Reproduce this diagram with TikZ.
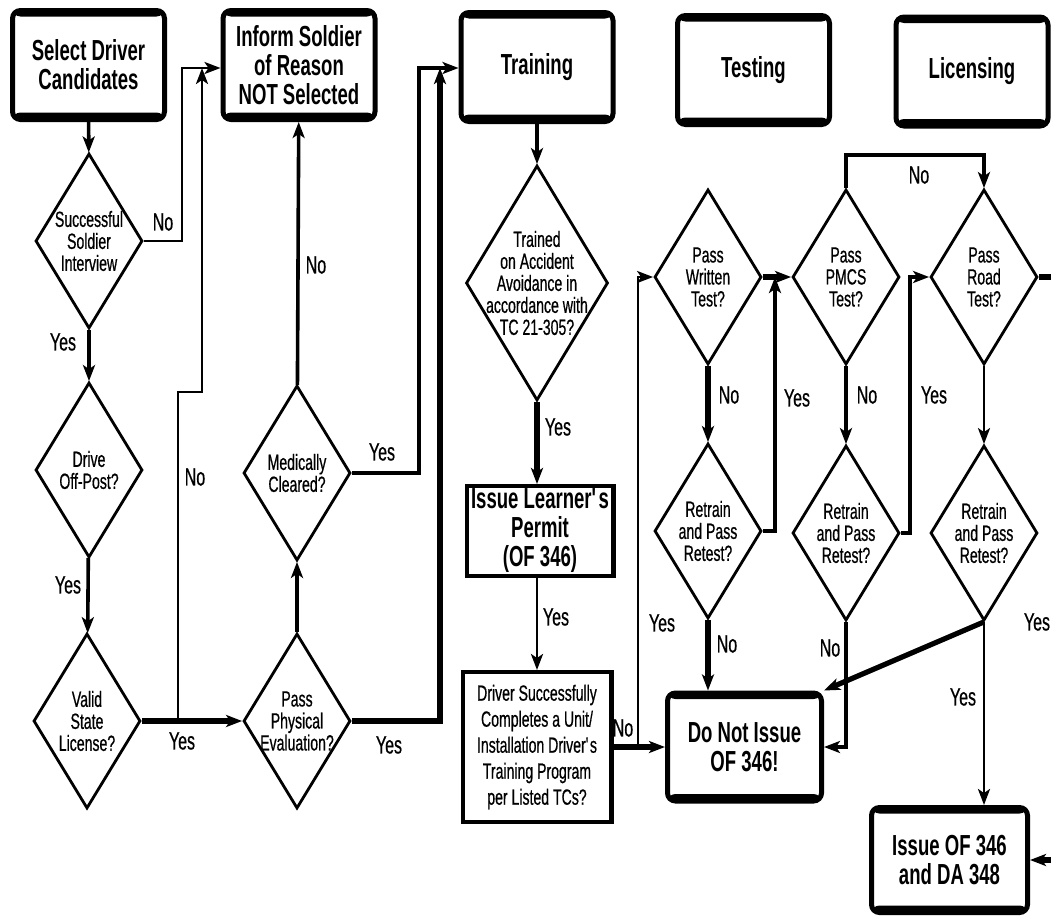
\documentclass[tikz,border=0pt]{standalone}
\usepackage{fontspec}
\setmainfont{Liberation Sans}[FakeStretch=0.64]
\newfontfamily\narrowfam{Liberation Sans}[FakeStretch=0.64, FakeBold=0.6]
\usepackage{tikz}
\usetikzlibrary{shapes.geometric,arrows.meta,calc}

\newcommand{\hdrfont}{\fontsize{14.5}{14.5}\selectfont\bfseries}
\newcommand{\dmdfont}{\narrowfam\fontsize{11}{11}\selectfont}
\newcommand{\lblfont}{\narrowfam\fontsize{12.5}{13}\selectfont}
\newcommand{\boxfont}{\narrowfam\fontsize{11}{13}\selectfont}

\begin{document}
\begin{tikzpicture}[
    x=0.5pt, y=-0.5pt,
    hdr/.style={draw, line width=2.5pt, rounded corners=4pt, minimum width=76pt, minimum height=54.5pt, inner sep=0pt, align=center, font=\hdrfont,
        path picture={
            \fill (path picture bounding box.north west) rectangle ([yshift=-3pt]path picture bounding box.north east);
            \fill ([yshift=3.5pt]path picture bounding box.south west) rectangle (path picture bounding box.south east);
        }},
    decision/.style={draw, diamond, line width=1.4pt, inner sep=-20pt, minimum width=53.5pt, minimum height=87.5pt, align=center, font=\dmdfont},
    plainbox/.style={draw, line width=2.2pt, inner sep=0pt, align=center},
    lbl/.style={inner sep=0pt, font=\lblfont},
    arr/.style={-{Stealth[length=8pt, width=6pt, inset=2pt]}},
    thinln/.style={line width=1.3pt},
    midln/.style={line width=1.8pt},
    thickln/.style={line width=2.6pt},
]
\path[use as bounding box] (0,0) rectangle (1051,916);

\node[hdr] (select) at (88.5,65)  {Select Driver\\Candidates};
\node[hdr] (inform) at (299,65)   {Inform Soldier\\of Reason\\NOT Selected};
\node[hdr] (train)  at (537,67)   {Training};
\node[hdr] (test)   at (753.5,70) {Testing};
\node[hdr] (lic)    at (972,71.5) {Licensing};
\node[hdr, minimum width=77pt, minimum height=54pt]   (dnot)  at (744.5,747) {Do Not Issue\\OF 346!};
\node[hdr, minimum width=78pt, minimum height=52.5pt] (issue) at (949.5,860) {Issue OF 346\\and DA 348};

\node[decision] (intv)  at (89,241) {Successful\\Soldier\\Interview};
\node[decision] (drive) at (89,470) {Drive\\Off-Post?};
\node[decision] (valid) at (87,721) {Valid\\State\\License?};
\node[decision] (med)   at (297,473) {Medically\\Cleared?};
\node[decision] (phys)  at (297,721) {Pass\\Physical\\Evaluation?};
\node[decision, minimum width=71pt, minimum height=117.5pt] (trained) at (537,283) {Trained\\on Accident\\Avoidance in\\accordance with\\TC 21-305?};
\node[decision] (written) at (708,277) {Pass\\Written\\Test?};
\node[decision] (pmcs)    at (846,277) {Pass\\PMCS\\Test?};
\node[decision] (road)    at (984,277) {Pass\\Road\\Test?};
\node[decision] (ret1)    at (708,531) {Retrain\\and Pass\\Retest?};
\node[decision] (ret2)    at (846,533) {Retrain\\and Pass\\Retest?};
\node[decision] (ret3)    at (984,533) {Retrain\\and Pass\\Retest?};

\node[plainbox, minimum width=73.3pt, minimum height=44.8pt, font=\hdrfont] (permit) at (540,531) {Issue Learner\textquotesingle s\\Permit\\(OF 346)};
\node[plainbox, minimum width=74.3pt, minimum height=74.8pt, font=\boxfont] (driver) at (537,747) {Driver Successfully\\Completes a Unit/\\Installation Driver\textquotesingle s\\Training Program\\per Listed TCs?};

\coordinate (cInf)  at (182,68);
\coordinate (jVal)  at (178,721);
\coordinate (cJog)  at (202,392);
\coordinate (cTr1)  at (419,68);
\coordinate (cTr2)  at (440,68);
\coordinate (jDrv)  at (638,747);
\coordinate (cRt1)  at (775,277);
\coordinate (cRt2)  at (910,277);
\coordinate (cTop)  at (846,155);
\coordinate (cEdgeR) at (1051,277);
\coordinate (cEdgeI) at (1051,860);

\draw[midln, arr] (select) -- (intv);
\draw[thinln, arr] (intv.east) -| (cInf) -- (cInf -| inform.west);
\draw[midln, arr] (intv) -- (drive);
\draw[midln, arr] (drive) -- (valid);
\draw[thickln, arr] (valid.east) -- (phys.west);
\draw[thinln, arr] (jVal) |- (cJog) -- (cJog |- cInf);
\draw[midln, arr] (phys) -- (med);
\draw[midln, arr] (med) -- (inform);
\draw[midln, arr] (med.east) -| (cTr1) -- (cTr1 -| train.west);
\draw[thickln, arr] (phys.east) -| (cTr2);

\draw[midln, arr] (train) -- (trained);
\draw[thickln, arr] (trained.south) -- (trained.south |- permit.north);
\draw[thinln, arr] (trained.south |- permit.south) -- (driver.north);
\draw[thickln, arr] (driver.east) -- (dnot.west);
\draw[thinln, arr] (jDrv) |- (written.west);

\draw[thickln, arr] (written.east) -- (pmcs.west);
\draw[thickln, arr] (written) -- (ret1);
\draw[midln, arr] (ret1.east) -| (cRt1);
\draw[thickln, arr] (ret1.south) -- (ret1.south |- dnot.north);
\draw[midln, arr] (pmcs) -- (ret2);
\draw[midln, arr] (ret2.east) -| (cRt2) -- (road.west);
\draw[midln, arr] (ret2.south) |- (dnot.east);
\draw[midln, arr] (pmcs.north) -- (cTop) -| (road.north);
\draw[thickln] (road.east) -- (cEdgeR);
\draw[thinln, arr] (road) -- (ret3);
\draw[thickln, arr] (ret3.south) -- (dnot.north east);
\draw[thinln, arr] (ret3.south) -- (ret3.south |- issue.north);
\draw[thickln, arr] (cEdgeI) -- (issue.east);

\node[lbl] (lNo1)  at (163,222) {No};
\node[lbl] (lYes1) at (63,342)  {Yes};
\node[lbl] (lYes2) at (68,585)  {Yes};
\node[lbl] (lNo2)  at (195,477) {No};
\node[lbl] (lYes3) at (182,741) {Yes};
\node[lbl] (lNo3)  at (316,265) {No};
\node[lbl] (lYes4) at (382,452) {Yes};
\node[lbl] (lYes5) at (389,745) {Yes};
\node[lbl] (lYes6) at (558,427) {Yes};
\node[lbl] (lYes7) at (556,617) {Yes};
\node[lbl] (lNo4)  at (623,728) {No};
\node[lbl] (lYes8) at (662,623) {Yes};
\node[lbl] (lNo5)  at (729,395) {No};
\node[lbl] (lYes9) at (797,398) {Yes};
\node[lbl] (lNo6)  at (727,644) {No};
\node[lbl] (lNo7)  at (867,395) {No};
\node[lbl] (lYes10) at (934,395) {Yes};
\node[lbl] (lNo8)  at (830,648) {No};
\node[lbl] (lNo9)  at (919,175) {No};
\node[lbl] (lYes11) at (963,697) {Yes};
\node[lbl] (lYes12) at (1037,622) {Yes};
\end{tikzpicture}
\end{document}
